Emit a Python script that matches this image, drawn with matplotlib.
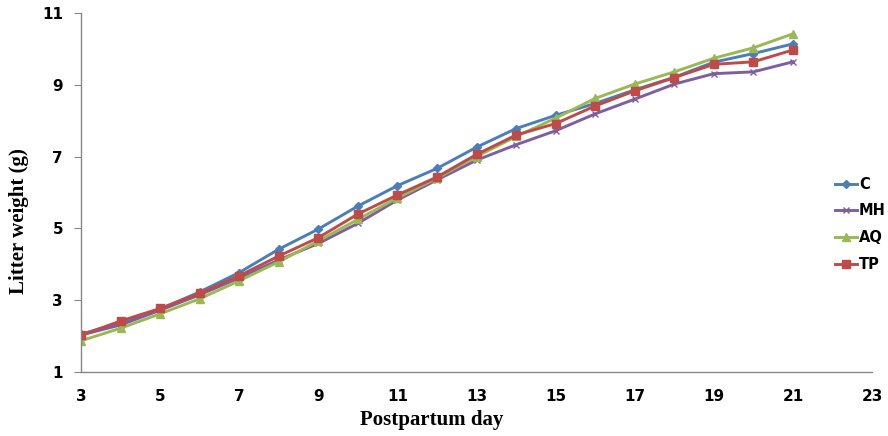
import matplotlib
matplotlib.use("Agg")
import matplotlib.pyplot as plt

days = list(range(3, 22))
C  = [2.05, 2.38, 2.75, 3.23, 3.77, 4.42, 4.98, 5.62, 6.19, 6.67, 7.26, 7.78, 8.15, 8.48, 8.86, 9.21, 9.63, 9.87, 10.14]
MH = [2.03, 2.31, 2.72, 3.15, 3.62, 4.12, 4.58, 5.14, 5.79, 6.35, 6.90, 7.33, 7.72, 8.19, 8.60, 9.02, 9.31, 9.36, 9.64]
AQ = [1.87, 2.22, 2.62, 3.04, 3.54, 4.07, 4.65, 5.25, 5.85, 6.40, 7.00, 7.56, 8.07, 8.62, 9.02, 9.36, 9.74, 10.03, 10.42]
TP = [2.02, 2.42, 2.77, 3.19, 3.68, 4.23, 4.74, 5.40, 5.93, 6.43, 7.06, 7.60, 7.92, 8.41, 8.83, 9.20, 9.57, 9.64, 9.97]

series = [("C", C, "#4A7EBB", "D", 4), ("MH", MH, "#7D5FA0", "x", 5),
          ("AQ", AQ, "#98B954", "^", 6), ("TP", TP, "#BE4B48", "s", 6)]

xticks = [3, 5, 7, 9, 11, 13, 15, 17, 19, 21, 23]
yticks = [1, 3, 5, 7, 9, 11]

fig = plt.figure(figsize=(8.88, 4.36), dpi=100)
ax = fig.add_axes([81/888, 1-372/436, (872-81)/888, (372-13)/436])

for name, vals, col, mk, ms in series:
    ax.plot(days, vals, color=col, lw=2.1, marker=mk, ms=ms, mew=1.0,
            mfc=col, mec=col, label=name)

ax.set_xlim(3, 23)
ax.set_ylim(1, 11)
ax.set_xticks(xticks)
ax.set_yticks(yticks)
for s in ["top", "right"]:
    ax.spines[s].set_visible(False)
for s in ["left", "bottom"]:
    ax.spines[s].set_color("#868686")
    ax.spines[s].set_linewidth(1.0)
ax.tick_params(axis="y", direction="out", length=5, color="#868686", pad=8)
ax.tick_params(axis="x", direction="out", length=0, color="#868686", pad=12)
for lab in ax.get_xticklabels() + ax.get_yticklabels():
    lab.set_fontweight("bold")
    lab.set_fontsize(11)
    lab.set_family("DejaVu Sans")

fig.text(432/888, 1-420/436, "Postpartum day", fontfamily="Liberation Serif", fontweight="bold",
         fontsize=15, ha="center", va="center")
fig.text(19/888, 1-221/436, "Litter weight (g)", fontfamily="Liberation Serif", fontweight="bold",
         fontsize=15, ha="center", va="center", rotation=90)

leg = ax.legend(loc="upper left", bbox_to_anchor=(829/888, 1-171/436), bbox_transform=fig.transFigure,
                frameon=False, prop={"weight": "bold", "size": 10.5, "family": "DejaVu Sans"},
                handlelength=1.5, handletextpad=0.15, labelspacing=0.8, borderaxespad=0)

fig.savefig("out.png", dpi=100)
